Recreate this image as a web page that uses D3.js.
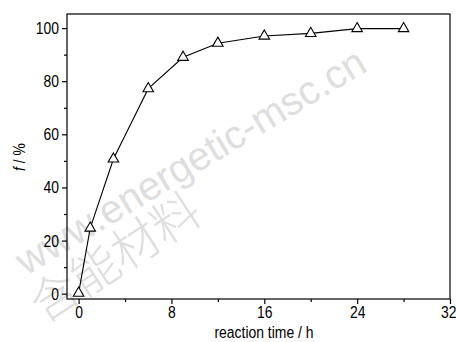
<!DOCTYPE html>
<html>
<head>
<meta charset="utf-8">
<script src="https://cdn.jsdelivr.net/npm/d3@7"></script>
<style>
  body { margin: 0; background: #fff; }
  svg { display: block; }
  .axis text { font-family: "Liberation Sans", Arial, sans-serif; font-size: 17px; fill: #000; }
  .axis path, .axis line { stroke: #000; stroke-width: 1.2; }
</style>
</head>
<body>
<div id="chart"></div>
<script>
const times = [0, 1, 3, 6, 9, 12, 16, 20, 24, 28];
const fValues = [0.2, 24.7, 50.7, 77.2, 89, 94.3, 97, 98, 99.8, 99.8];
const xTicks = [0, 8, 16, 24, 32];
const yTicks = [0, 20, 40, 60, 80, 100];

const width = 456, height = 342;
const margin = { top: 14, right: 6, bottom: 43, left: 67 };
const narrow = 0.82; // no narrow font installed, squeeze Liberation Sans instead

const svg = d3.select('#chart').append('svg')
  .attr('width', width)
  .attr('height', height);

// watermark
const wm = svg.append('g').attr('fill', '#dedede')
  .style('font-family', '"Liberation Sans", Arial, sans-serif');
wm.append('text')
  .attr('transform', 'translate(26,276) rotate(-31)')
  .style('font-size', '40px')
  .text('www.energetic-msc.cn');
wm.append('text')
  .attr('transform', 'translate(44,324) rotate(-33)')
  .style('font-family', '"Noto Sans CJK SC", sans-serif')
  .style('font-weight', 300)
  .style('font-size', '48px')
  .text('含能材料');

const x = d3.scaleLinear().domain([-1, 32]).range([margin.left, width - margin.right]);
const y = d3.scaleLinear().domain([-2, 105.3]).range([height - margin.bottom, margin.top]);

// frame
svg.append('rect')
  .attr('x', margin.left).attr('y', margin.top)
  .attr('width', width - margin.right - margin.left)
  .attr('height', height - margin.bottom - margin.top)
  .attr('fill', 'none').attr('stroke', '#000').attr('stroke-width', 1.2);

// minor ticks
const xAxisMinor = svg.append('g')
  .attr('class', 'axis')
  .attr('transform', `translate(0, ${height - margin.bottom})`)
  .call(d3.axisBottom(x).tickValues([4, 12, 20, 28]).tickSize(3).tickFormat(''));
xAxisMinor.select('.domain').remove();

const yAxisMinor = svg.append('g')
  .attr('class', 'axis')
  .attr('transform', `translate(${margin.left}, 0)`)
  .call(d3.axisLeft(y).tickValues([10, 30, 50, 70, 90]).tickSize(3).tickFormat(''));
yAxisMinor.select('.domain').remove();

const xAxis = svg.append('g')
  .attr('class', 'axis')
  .attr('transform', `translate(0, ${height - margin.bottom})`)
  .call(d3.axisBottom(x).tickValues(xTicks).tickSize(5).tickPadding(2));
xAxis.select('.domain').remove();
xAxis.selectAll('text')
  .attr('transform', `scale(${narrow},1)`)
  .filter(d => d === 32)
  .attr('text-anchor', 'end')
  .attr('x', 6 / narrow);

const yAxis = svg.append('g')
  .attr('class', 'axis')
  .attr('transform', `translate(${margin.left}, 0)`)
  .call(d3.axisLeft(y).tickValues(yTicks).tickSize(5).tickPadding(3));
yAxis.select('.domain').remove();
yAxis.selectAll('text')
  .attr('x', -8 / narrow)
  .attr('transform', `scale(${narrow},1)`);

// axis titles
const labelFont = '"Liberation Sans", Arial, sans-serif';
svg.append('text')
  .attr('transform', `translate(264, 338) scale(${narrow},1)`)
  .attr('text-anchor', 'middle')
  .style('font-family', labelFont).style('font-size', '17px')
  .text('reaction time / h');

const yl = svg.append('text')
  .attr('transform', `translate(25, 157) rotate(-90) scale(${narrow},1)`)
  .attr('text-anchor', 'middle')
  .style('font-family', labelFont).style('font-size', '17px');
yl.append('tspan').style('font-style', 'italic').text('f');
yl.append('tspan').text(' / %');

// line
const line = d3.line()
  .x((d, i) => x(times[i]))
  .y(d => y(d));

svg.append('path')
  .datum(fValues)
  .attr('fill', 'none')
  .attr('stroke', '#000')
  .attr('stroke-width', 1.1)
  .attr('d', line);

const tri = d3.symbol().type(d3.symbolTriangle).size(48);
svg.selectAll('.pt')
  .data(fValues)
  .enter()
  .append('path')
  .attr('class', 'pt')
  .attr('transform', (d, i) => `translate(${x(times[i])}, ${y(d)})`)
  .attr('d', tri)
  .attr('fill', '#fff')
  .attr('stroke', '#000')
  .attr('stroke-width', 1.1);
</script>
</body>
</html>
